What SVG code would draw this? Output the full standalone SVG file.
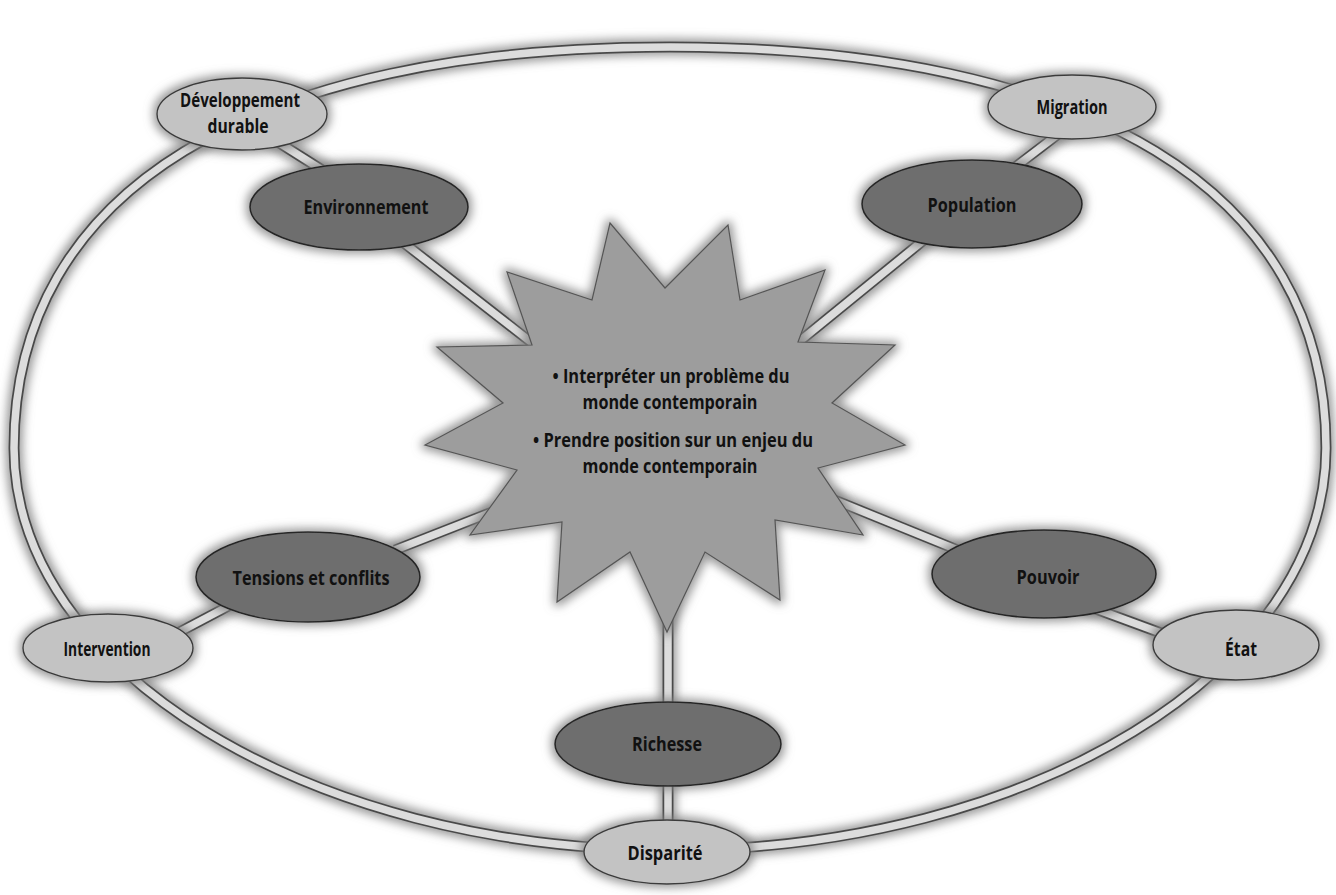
<svg xmlns="http://www.w3.org/2000/svg" width="1336" height="895" viewBox="0 0 1336 895">
<defs>
<filter id="halo" x="-20%" y="-20%" width="140%" height="140%">
<feMorphology in="SourceAlpha" operator="dilate" radius="3" result="d"/>
<feGaussianBlur in="d" stdDeviation="5" result="b"/>
<feFlood flood-color="#808080" flood-opacity="0.8"/>
<feComposite in2="b" operator="in" result="s"/>
<feMerge><feMergeNode in="s"/><feMergeNode in="SourceGraphic"/></feMerge>
</filter>
<style>
.band{fill:none;stroke:#4a4a4a;stroke-width:11;stroke-linecap:butt}
.core{fill:none;stroke:#dcdcdc;stroke-width:7.5;stroke-linecap:butt}
.dark{fill:#6e6e6e;stroke:#262626;stroke-width:1.6}
.light{fill:#c3c3c3;stroke:#3a3a3a;stroke-width:1.4}
.star{fill:#9d9d9d;stroke:#555;stroke-width:1.2;stroke-linejoin:miter}
text{font-family:"Open Sans","Liberation Sans",sans-serif;font-weight:700;fill:#111;text-anchor:middle}
.lbl{font-size:20px}
.ctr{font-size:20px}
</style>
</defs>
<rect width="1336" height="895" fill="#fff"/>

<g id="connectors" filter="url(#halo)">
<path class="band" d="M14,448 C14,191 250,47 670,47 C1090,47 1326,191 1326,448 C1326,669 1031,850 670,850 C309,850 14,669 14,448 Z"/>
<path class="core" d="M14,448 C14,191 250,47 670,47 C1090,47 1326,191 1326,448 C1326,669 1031,850 670,850 C309,850 14,669 14,448 Z"/>
<line class="band" x1="270" y1="137" x2="330" y2="175"/><line class="core" x1="270" y1="137" x2="330" y2="175"/>
<line class="band" x1="395" y1="236" x2="536" y2="346"/><line class="core" x1="395" y1="236" x2="536" y2="346"/>
<line class="band" x1="1065" y1="129" x2="1010" y2="171"/><line class="core" x1="1065" y1="129" x2="1010" y2="171"/>
<line class="band" x1="930" y1="235" x2="795" y2="345"/><line class="core" x1="930" y1="235" x2="795" y2="345"/>
<line class="band" x1="395" y1="550" x2="492" y2="512"/><line class="core" x1="395" y1="550" x2="492" y2="512"/>
<line class="band" x1="170" y1="637" x2="240" y2="600"/><line class="core" x1="170" y1="637" x2="240" y2="600"/>
<line class="band" x1="832" y1="499" x2="965" y2="553"/><line class="core" x1="832" y1="499" x2="965" y2="553"/>
<line class="band" x1="1085" y1="605" x2="1180" y2="640"/><line class="core" x1="1085" y1="605" x2="1180" y2="640"/>
<line class="band" x1="668" y1="600" x2="668" y2="720"/><line class="core" x1="668" y1="600" x2="668" y2="720"/>
<line class="band" x1="668" y1="770" x2="668" y2="835"/><line class="core" x1="668" y1="770" x2="668" y2="835"/>
</g>

<g id="center">
<polygon class="star" filter="url(#halo)" points="610,223 665,288 728,225 740,300 825,270 798,342 895,345 832,403 905,445 818,468 863,535 775,520 780,600 705,552 667,632 630,552 557,602 562,522 470,535 517,470 425,445 503,403 437,347 532,345 507,272 592,300"/>
<text class="ctr" x="671" y="383" textLength="237" lengthAdjust="spacingAndGlyphs">• Interpréter un problème du</text>
<text class="ctr" x="670" y="409" textLength="175" lengthAdjust="spacingAndGlyphs">monde contemporain</text>
<text class="ctr" x="673" y="447" textLength="280" lengthAdjust="spacingAndGlyphs">• Prendre position sur un enjeu du</text>
<text class="ctr" x="670" y="473" textLength="175" lengthAdjust="spacingAndGlyphs">monde contemporain</text>
</g>

<g id="environnement"><ellipse class="dark" filter="url(#halo)" cx="359" cy="207" rx="109" ry="43"/><text class="lbl" x="366" y="214" textLength="125" lengthAdjust="spacingAndGlyphs">Environnement</text></g>
<g id="population"><ellipse class="dark" filter="url(#halo)" cx="972" cy="204" rx="110" ry="44"/><text class="lbl" x="972" y="212" textLength="89" lengthAdjust="spacingAndGlyphs">Population</text></g>
<g id="tensions"><ellipse class="dark" filter="url(#halo)" cx="308" cy="577" rx="112" ry="45"/><text class="lbl" x="311" y="585" textLength="157" lengthAdjust="spacingAndGlyphs">Tensions et conflits</text></g>
<g id="pouvoir"><ellipse class="dark" filter="url(#halo)" cx="1044" cy="574" rx="112" ry="44"/><text class="lbl" x="1048" y="584" textLength="63" lengthAdjust="spacingAndGlyphs">Pouvoir</text></g>
<g id="richesse"><ellipse class="dark" filter="url(#halo)" cx="668" cy="744" rx="113" ry="42"/><text class="lbl" x="667" y="751" textLength="70" lengthAdjust="spacingAndGlyphs">Richesse</text></g>

<g id="developpement"><ellipse class="light" filter="url(#halo)" cx="242" cy="114" rx="85" ry="36"/><text class="lbl" x="240" y="107" textLength="120" lengthAdjust="spacingAndGlyphs">Développement</text><text class="lbl" x="238" y="133" textLength="61" lengthAdjust="spacingAndGlyphs">durable</text></g>
<g id="migration"><ellipse class="light" filter="url(#halo)" cx="1072" cy="107" rx="84" ry="32"/><text class="lbl" x="1072" y="114" textLength="71" lengthAdjust="spacingAndGlyphs">Migration</text></g>
<g id="intervention"><ellipse class="light" filter="url(#halo)" cx="108" cy="648" rx="85" ry="34"/><text class="lbl" x="107" y="656" textLength="87" lengthAdjust="spacingAndGlyphs">Intervention</text></g>
<g id="etat"><ellipse class="light" filter="url(#halo)" cx="1236" cy="645" rx="83" ry="35"/><text class="lbl" x="1241" y="656" textLength="32" lengthAdjust="spacingAndGlyphs">État</text></g>
<g id="disparite"><ellipse class="light" filter="url(#halo)" cx="667" cy="852" rx="83" ry="32"/><text class="lbl" x="665" y="860" textLength="75" lengthAdjust="spacingAndGlyphs">Disparité</text></g>
</svg>
